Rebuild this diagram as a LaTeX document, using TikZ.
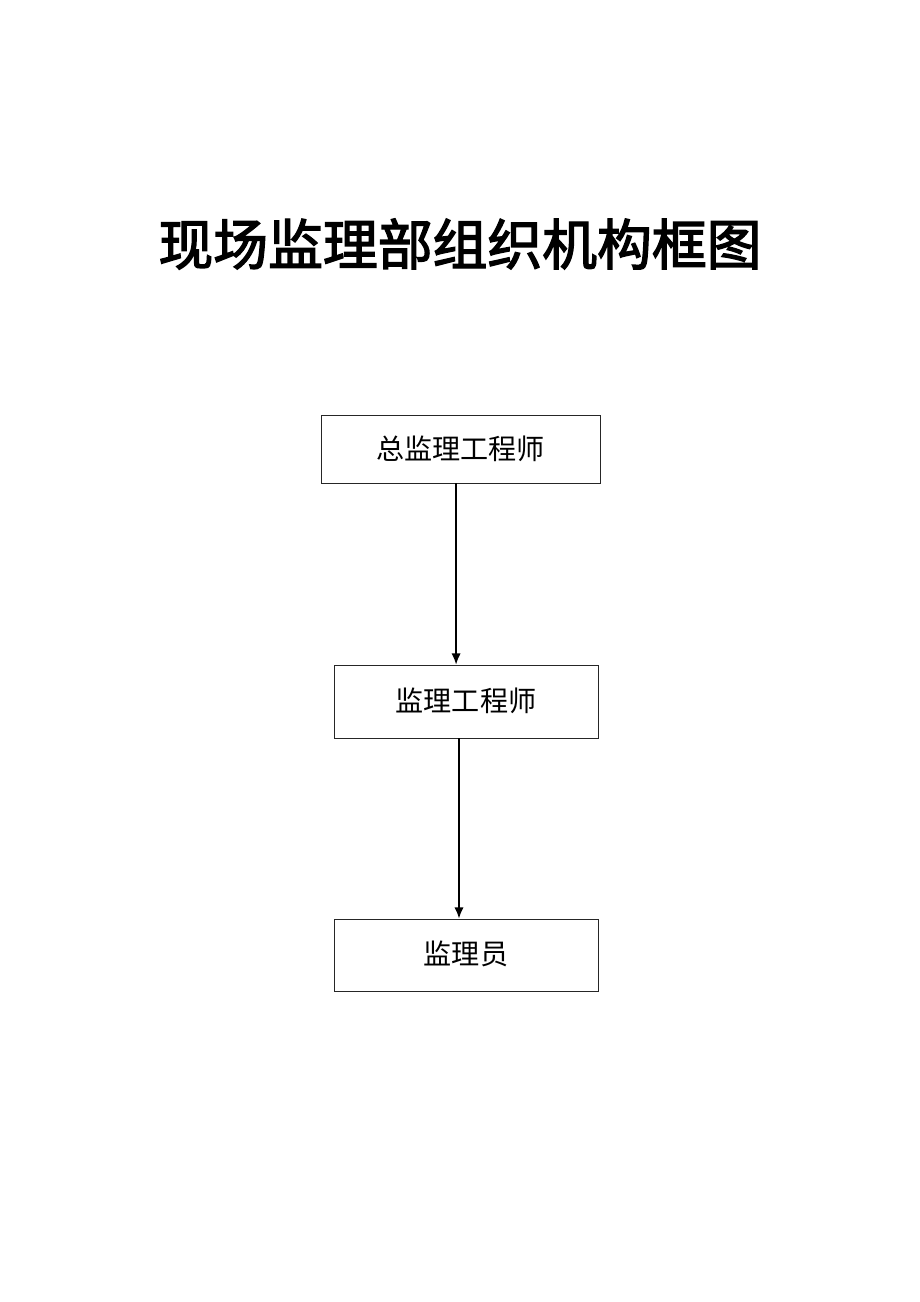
\documentclass[tikz,border=0pt]{standalone}
\usepackage{fontspec}
\newfontfamily\cjk{Noto Sans CJK SC}
\newfontfamily\cjktitle[FakeBold=2.5]{Noto Sans CJK SC}
\usetikzlibrary{arrows.meta, positioning, calc}

\begin{document}
\begin{tikzpicture}[
    post/.style={draw=black!85, line width=0.6pt, minimum height=1.8cm, minimum width=6.6cm, font=\cjk\fontsize{20}{24}\selectfont},
    link/.style={line width=1pt, -{Latex[length=2.8mm, width=2.3mm]}}
]
    \useasboundingbox (0,0) rectangle (23,-32.55);

    \node (title) at (11.5,-6.1) {\cjktitle\fontsize{39}{44}\selectfont 现场监理部组织机构框图};

    \node[post, minimum width=6.975cm, minimum height=1.7cm] (chief) at (11.5125,-11.225) {总监理工程师};
    \node[post, minimum height=1.825cm] (engineer) at (11.65,-17.5375) {\raisebox{0.1cm}{监理工程师}};
    \node[post] (inspector) at (11.65,-23.875) {\raisebox{0.1cm}{监理员}};

    \draw[link] ([xshift=-0.11cm]chief.south) -- ([xshift=-0.11cm]chief.south |- engineer.north);
    \draw[link] ([xshift=-0.175cm]engineer.south) -- ([xshift=-0.175cm]engineer.south |- inspector.north);
\end{tikzpicture}
\end{document}
